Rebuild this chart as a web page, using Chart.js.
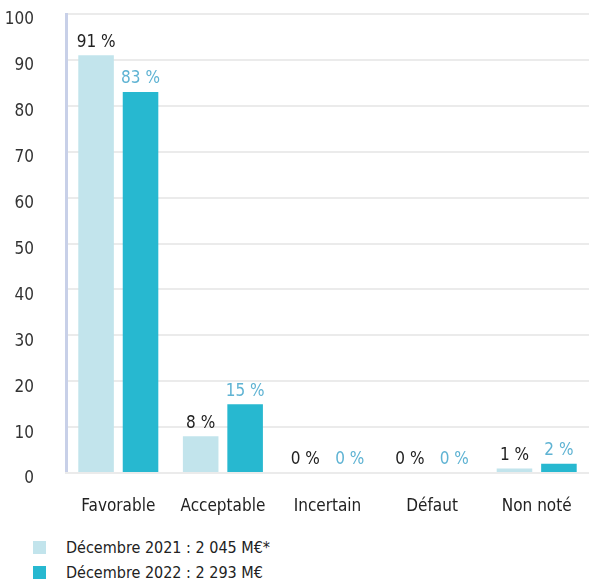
<!DOCTYPE html>
<html>
<head>
<meta charset="utf-8">
<script src="https://cdn.jsdelivr.net/npm/chart.js@4.4.0/dist/chart.umd.min.js"></script>
<style>
    body { margin: 0; background: #fff; font-family: "Liberation Sans Narrow", "DejaVu Sans Condensed", sans-serif; }
    #wrap { position: relative; width: 589px; height: 581px; }
    #chart { position: absolute; left: 0; top: 0; }
    .legend { position: absolute; left: 33px; font-size: 16px; color: #222; }
    .legend span.box { position: absolute; left: 0; top: 3px; width: 13px; height: 13px; }
    .legend span.txt { position: absolute; left: 33px; top: 0; white-space: nowrap; }
</style>
</head>
<body>
<div id="wrap">
    <canvas id="chart" width="589" height="525"></canvas>
    <div class="legend" style="top:538px"><span class="box" style="background:#c2e4ec"></span><span class="txt">Décembre 2021 : 2 045 M€*</span></div>
    <div class="legend" style="top:563px"><span class="box" style="background:#27b8d0"></span><span class="txt">Décembre 2022 : 2 293 M€</span></div>
</div>
<script>
// Chart data
const categories = ['Favorable', 'Acceptable', 'Incertain', 'Défaut', 'Non noté'];
const values2021 = [91, 8, 0, 0, 1];
const values2022 = [83, 15, 0, 0, 2];
const yTicks = [0, 10, 20, 30, 40, 50, 60, 70, 80, 90, 100];

const FONT = '"Liberation Sans Narrow", "DejaVu Sans Condensed", sans-serif';
const labelColors = ['#222222', '#5fb3d3'];

// Draw "xx %" above each bar
const valueLabels = {
    id: 'valueLabels',
    afterDatasetsDraw: function (chart) {
        const ctx = chart.ctx;
        ctx.save();
        ctx.font = '17px ' + FONT;
        ctx.textAlign = 'center';
        ctx.textBaseline = 'middle';
        chart.data.datasets.forEach((ds, i) => {
            const meta = chart.getDatasetMeta(i);
            meta.data.forEach((bar, j) => {
                ctx.fillStyle = labelColors[i];
                ctx.fillText(ds.data[j] + ' %', bar.x, bar.y - 13);
            });
        });
        ctx.restore();
    }
};

new Chart(document.getElementById('chart'), {
    type: 'bar',
    data: {
        labels: categories,
        datasets: [
            {
                label: 'Décembre 2021 : 2 045 M€*',
                data: values2021,
                backgroundColor: '#c2e4ec',
                categoryPercentage: 0.85,
                barPercentage: 0.8
            },
            {
                label: 'Décembre 2022 : 2 293 M€',
                data: values2022,
                backgroundColor: '#27b8d0',
                categoryPercentage: 0.85,
                barPercentage: 0.8
            }
        ]
    },
    options: {
        responsive: false,
        animation: false,
        layout: { padding: { top: 14, left: 0, right: 0, bottom: 0 } },
        plugins: {
            legend: { display: false },
            tooltip: { enabled: false }
        },
        scales: {
            y: {
                min: 0,
                max: 100,
                afterBuildTicks: function (axis) {
                    axis.ticks = yTicks.map(v => ({ value: v }));
                },
                afterFit: function (axis) {
                    axis.width = 66;
                    axis.paddingTop = 0;
                    axis.paddingBottom = 0;
                },
                grid: { color: '#ebebeb', lineWidth: 2, drawTicks: false },
                border: { display: true, color: '#c8d0e8', width: 3 },
                ticks: {
                    padding: 32,
                    labelOffset: 6,
                    color: '#333',
                    font: { family: FONT, size: 17 }
                }
            },
            x: {
                afterFit: function (axis) {
                    axis.height = 52;
                    axis.paddingLeft = 0;
                    axis.paddingRight = 0;
                },
                grid: { display: false, drawTicks: false },
                border: { display: true, color: '#ebebeb', width: 2 },
                ticks: {
                    padding: 23,
                    color: '#222',
                    font: { family: FONT, size: 17 }
                }
            }
        }
    },
    plugins: [valueLabels]
});
</script>
</body>
</html>
